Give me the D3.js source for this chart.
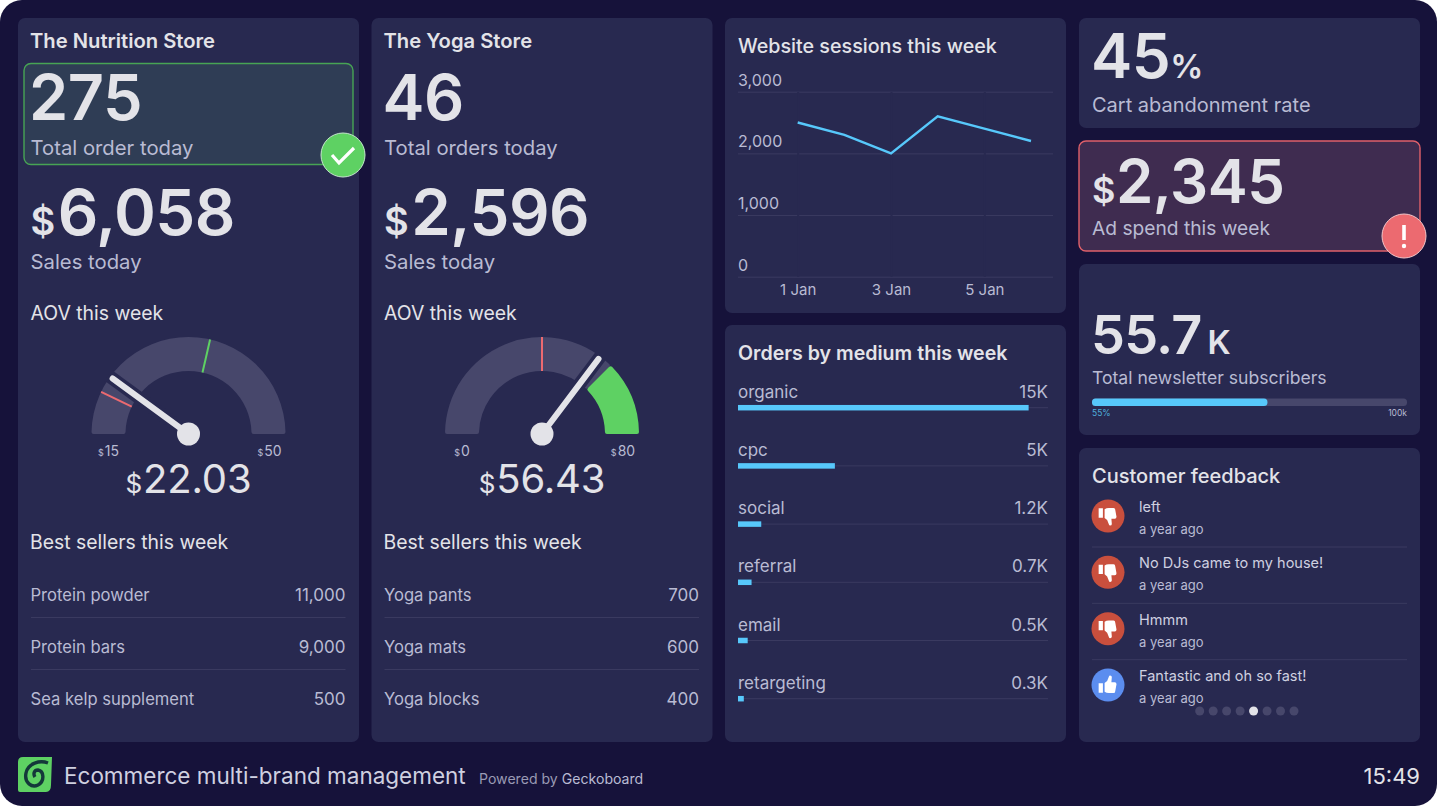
<!DOCTYPE html>
<html>
<head>
<meta charset="utf-8">
<script src="https://cdn.jsdelivr.net/npm/d3@7"></script>
<style>
  html, body { margin: 0; background: #fff; }
  svg { display: block; font-family: Inter, "Noto Sans", sans-serif; }
  .axis path { display: none; }
</style>
</head>
<body>
<svg id="board" width="1437" height="808"></svg>
<script>
// stores
const storeNames = ["The Nutrition Store", "The Yoga Store"];
const orderValues = ["275", "46"];
const orderLabels = ["Total order today", "Total orders today"];
const salesValues = ["6,058", "2,596"];
const gaugeMins = [15, 0];
const gaugeMaxs = [50, 80];
const gaugeValues = [22.03, 56.43];
const gaugeRedMarks = [20, 40];
const gaugeGreenMarks = [35, null];
const gaugeGreenBands = [null, 60];
const nutritionSellers = ["Protein powder", "Protein bars", "Sea kelp supplement"];
const nutritionSold = [11000, 9000, 500];
const yogaSellers = ["Yoga pants", "Yoga mats", "Yoga blocks"];
const yogaSold = [700, 600, 400];

// website sessions
const sessionDays = [1, 2, 3, 4, 5, 6];
const sessionValues = [2500, 2300, 2000, 2600, 2400, 2200];
const sessionTicks = [0, 1000, 2000, 3000];
const sessionDayTicks = [1, 3, 5];

// orders by medium
const mediums = ["organic", "cpc", "social", "referral", "email", "retargeting"];
const mediumValues = [15000, 5000, 1200, 700, 500, 300];
const mediumLabels = ["15K", "5K", "1.2K", "0.7K", "0.5K", "0.3K"];

// feedback
const feedbackTexts = ["left", "No DJs came to my house!", "Hmmm", "Fantastic and oh so fast!"];
const feedbackUp = [false, false, false, true];
const feedbackPages = [0, 1, 2, 3, 4, 5, 6, 7];
const feedbackActive = 4;

const newsletterValue = 55.7;
const newsletterGoal = 100;

const BG = "#16123a", CARD = "#282950", TEXT = "#e3e3e8", SUB = "#b9bbd3", SOFT = "#cfd0e0",
  TRACK = "#47476b", LINE = "#3a3a60", BLUE = "#57c8fb", GREEN = "#5ed163", RED = "#ec6a70";

const svg = d3.select("#board");

svg.append("rect").attr("width", 1437).attr("height", 806).attr("rx", 22).attr("fill", BG);

function card(x, y, w, h, fill, stroke) {
  svg.append("rect").attr("x", x).attr("y", y).attr("width", w).attr("height", h)
    .attr("rx", 7).attr("fill", fill || CARD)
    .attr("stroke", stroke || "none").attr("stroke-width", stroke ? 1.4 : 0);
}

function label(parent, x, y, str, size, color, weight, anchor) {
  return parent.append("text").attr("x", x).attr("y", y).text(str)
    .attr("font-size", size).attr("fill", color || TEXT)
    .attr("font-weight", weight || 400).attr("text-anchor", anchor || "start");
}

// number with a small prefix or suffix, e.g. $6,058
function bigNumber(parent, x, y, prefix, value, suffix, size, smallSize, gap, tracking) {
  const t = parent.append("text").attr("x", x).attr("y", y).attr("fill", TEXT)
    .attr("font-weight", 600).attr("letter-spacing", tracking || "-0.03em");
  if (prefix) t.append("tspan").text(prefix).attr("font-size", smallSize);
  t.append("tspan").text(value).attr("font-size", size).attr("dx", prefix ? gap : 0);
  if (suffix) t.append("tspan").text(suffix).attr("font-size", smallSize).attr("dx", gap);
}

// gauge
function gauge(g, i) {
  const angle = d3.scaleLinear().domain([gaugeMins[i], gaugeMaxs[i]]).range([-Math.PI / 2, Math.PI / 2]);
  const rOuter = 97, rInner = 63;
  const arc = d3.arc().innerRadius(rInner).outerRadius(rOuter).cornerRadius(2);
  const band = gaugeGreenBands[i];

  g.append("path").attr("fill", TRACK)
    .attr("d", arc({ startAngle: angle(gaugeMins[i]), endAngle: angle(band === null ? gaugeMaxs[i] : band) }));
  if (band !== null) {
    g.append("path").attr("fill", GREEN)
      .attr("d", arc({ startAngle: angle(band), endAngle: angle(gaugeMaxs[i]) }));
  }

  const tick = (v, color) => {
    const a = angle(v) - Math.PI / 2;
    g.append("line").attr("stroke", color).attr("stroke-width", 2)
      .attr("x1", rInner * Math.cos(a)).attr("y1", rInner * Math.sin(a))
      .attr("x2", rOuter * Math.cos(a)).attr("y2", rOuter * Math.sin(a));
  };
  tick(gaugeRedMarks[i], RED);
  if (gaugeGreenMarks[i] !== null) tick(gaugeGreenMarks[i], GREEN);

  const a = angle(gaugeValues[i]) - Math.PI / 2;
  const nx = 94 * Math.cos(a), ny = 94 * Math.sin(a);
  g.append("line").attr("x2", nx * 1.06).attr("y2", ny * 1.06)
    .attr("stroke", CARD).attr("stroke-width", 13);
  g.append("line").attr("x2", nx).attr("y2", ny)
    .attr("stroke", TEXT).attr("stroke-width", 6).attr("stroke-linecap", "round");
  g.append("circle").attr("r", 11.5).attr("fill", TEXT);

  const end = (x, v) => {
    const t = g.append("text").attr("x", x).attr("y", 21.5).attr("fill", SUB).attr("text-anchor", "middle");
    t.append("tspan").text("$").attr("font-size", 9);
    t.append("tspan").text(v).attr("font-size", 14).attr("dx", 1);
  };
  end(-80, gaugeMins[i]);
  end(81, gaugeMaxs[i]);

  const v = g.append("text").attr("y", 59).attr("text-anchor", "middle").attr("fill", TEXT).attr("letter-spacing", "-0.01em");
  v.append("tspan").text("$").attr("font-size", 26);
  v.append("tspan").text(gaugeValues[i].toFixed(2)).attr("font-size", 40).attr("dx", 1);
}

// two store columns
const sellers = [nutritionSellers, yogaSellers];
const sold = [nutritionSold, yogaSold];
storeNames.forEach((name, i) => {
  const left = 18 + i * 353.5;
  card(left, 18, 341, 724);
  if (i === 0) card(24, 63.5, 329, 101, "#2f3d55", "#47a454");
  const g = svg.append("g").attr("transform", `translate(${left},0)`);
  label(g, 12, 47.5, name, 20.2, TEXT, 600);
  bigNumber(g, 11, 120, null, orderValues[i], null, 63);
  label(g, 12.5, 155, orderLabels[i], 20.3, SUB);
  bigNumber(g, 12.5, 235, "$", salesValues[i], null, 63.5, 38, 3);
  label(g, 12.5, 269, "Sales today", 20.3, SUB);
  label(g, 12.5, 320, "AOV this week", 19.4, TEXT);
  gauge(g.append("g").attr("transform", "translate(170.5,434)"), i);
  label(g, 12, 549, "Best sellers this week", 19.4, TEXT);

  const rowY = d3.scalePoint().domain(sellers[i]).range([601, 705]);
  sellers[i].forEach((s, j) => {
    label(g, 12.5, rowY(s), s, 16.6, SUB);
    label(g, 327.5, rowY(s), d3.format(",")(sold[i][j]), 17, SUB, 400, "end");
    if (j < 2) {
      g.append("line").attr("x1", 13).attr("x2", 327.5)
        .attr("y1", rowY(s) + 16.5).attr("y2", rowY(s) + 16.5).attr("stroke", LINE);
    }
  });
});

// status badges
const ok = svg.append("g").attr("transform", "translate(343,155)");
ok.append("circle").attr("r", 22).attr("fill", GREEN).attr("stroke", "#c4e6cc").attr("stroke-width", 1);
ok.append("path").attr("d", d3.line()([[-11, 0], [-4, 8], [11, -7]]))
  .attr("fill", "none").attr("stroke", "#fff").attr("stroke-width", 3.2);

// website sessions
card(725, 18, 341, 295);
label(svg, 738, 53, "Website sessions this week", 19.7, TEXT, 500);
const sx = d3.scaleLinear().domain([1, 6]).range([797.7, 1031]);
const sy = d3.scaleLinear().domain([0, 3000]).range([276.7, 91.7]);
const left = 738, right = 1053;

const yAxis = svg.append("g").attr("class", "axis")
  .attr("transform", `translate(${left},0)`)
  .call(d3.axisRight(sy).tickValues(sessionTicks).tickSize(right - left).tickFormat(d3.format(",")));
yAxis.selectAll("line").attr("stroke", LINE);
yAxis.selectAll("text").attr("x", 0).attr("dy", -6.5).attr("text-anchor", "start")
  .attr("fill", SUB).attr("font-size", 16).attr("font-family", "Inter");

const xAxis = svg.append("g").attr("class", "axis")
  .attr("transform", "translate(0,92)")
  .call(d3.axisBottom(sx).tickValues(sessionDayTicks).tickSize(185).tickPadding(7).tickFormat(d => d + " Jan"));
xAxis.selectAll("line").attr("stroke", CARD).attr("stroke-width", 2);
xAxis.selectAll("text").attr("fill", SUB).attr("font-size", 15).attr("font-family", "Inter");

svg.append("path").datum(sessionDays)
  .attr("fill", "none").attr("stroke", BLUE).attr("stroke-width", 2.4)
  .attr("d", d3.line().x(d => sx(d)).y((d, i) => sy(sessionValues[i])));

// orders by medium
card(725, 325, 341, 417);
label(svg, 738, 360, "Orders by medium this week", 19.6, TEXT, 600);
const bx = d3.scaleLinear().domain([0, 16000]).range([738, 1048]);
const by = d3.scalePoint().domain(mediums).range([407.7, 698.7]);

svg.append("g").selectAll("line").data(mediums).join("line")
  .attr("x1", bx(0)).attr("x2", bx.range()[1])
  .attr("y1", d => by(d)).attr("y2", d => by(d)).attr("stroke", LINE);
svg.append("g").selectAll("rect").data(mediums).join("rect")
  .attr("x", bx(0)).attr("y", d => by(d) - 2.75).attr("height", 5.5)
  .attr("width", (d, i) => bx(mediumValues[i]) - bx(0)).attr("fill", BLUE);
mediums.forEach((m, i) => {
  label(svg, 738, by(m) - 10, m, 17, SUB);
  label(svg, 1048, by(m) - 10, mediumLabels[i], 17, SUB, 400, "end");
});

// right column
card(1079, 18, 341, 110);
const abandon = svg.append("g");
bigNumber(abandon, 1091, 78, null, "45", "%", 62, 33, 0);
label(svg, 1092, 112, "Cart abandonment rate", 20, SUB);

card(1079, 141, 341, 110, "#3f2c50", "#e0606a");
const ad = svg.append("g");
bigNumber(ad, 1092, 203, "$", "2,345", null, 60, 36, 1);
label(svg, 1092, 235, "Ad spend this week", 19.2, SUB);

const warn = svg.append("g").attr("transform", "translate(1404,236)");
warn.append("circle").attr("r", 22).attr("fill", RED).attr("stroke", "#f3c5c8").attr("stroke-width", 1);
warn.append("line").attr("y1", -11).attr("y2", 4).attr("stroke", "#fff").attr("stroke-width", 3.6);
warn.append("circle").attr("cy", 10).attr("r", 2.2).attr("fill", "#fff");

card(1079, 264, 341, 171);
const subs = svg.append("g");
bigNumber(subs, 1091, 354, null, String(newsletterValue), "K", 54, 33, 6, "-0.05em");
label(svg, 1092, 384, "Total newsletter subscribers", 17.6, SUB);
const px = d3.scaleLinear().domain([0, newsletterGoal]).range([1092, 1407]);
svg.append("rect").attr("x", px(0)).attr("y", 398.5).attr("width", px(newsletterGoal) - px(0)).attr("height", 7.5)
  .attr("rx", 3.5).attr("fill", TRACK);
svg.append("rect").attr("x", px(0)).attr("y", 398.5).attr("width", px(newsletterValue) - px(0)).attr("height", 7.5)
  .attr("rx", 3.5).attr("fill", BLUE);
label(svg, 1092, 416, "55%", 8.5, "#4fb0dd");
label(svg, 1407, 416, "100k", 8.5, SUB, 400, "end");

// customer feedback
card(1079, 448, 341, 294);
label(svg, 1092, 483, "Customer feedback", 20, TEXT, 500);

const thumb = "M-11,-9 h5 v11 h-5 z M-4,-8 q2,-1.5 5,-1.5 h5.5 q2,0 2,2.2 l1.5,8.3 q0,2.3 -2,2.3 h-4 l.5,6 q0,2 -2,2 q-1.2,0 -1.5,-1.5 l-2,-5 l-3,-2.5 z";
const fy = d3.scalePoint().domain(feedbackTexts).range([516, 685]);
feedbackTexts.forEach((t, i) => {
  const up = feedbackUp[i];
  const c = svg.append("g").attr("transform", `translate(1108,${fy(t)})`);
  c.append("circle").attr("r", 16.5).attr("fill", up ? "#5b8def" : "#c94f3d");
  c.append("path").attr("d", thumb).attr("fill", "#fff")
    .attr("transform", up ? "scale(0.85,-0.85)" : "scale(0.85)");
  label(svg, 1139, fy(t) - 4, t, 14.5, SOFT);
  label(svg, 1139, fy(t) + 18, "a year ago", 13, SUB);
  if (i < 3) {
    svg.append("line").attr("x1", 1092).attr("x2", 1407)
      .attr("y1", fy(t) + 31).attr("y2", fy(t) + 31).attr("stroke", LINE);
  }
});
const dotX = d3.scalePoint().domain(feedbackPages).range([1199.7, 1294]);
svg.append("g").selectAll("circle").data(feedbackPages).join("circle")
  .attr("cx", d => dotX(d)).attr("cy", 711).attr("r", 4.5)
  .attr("fill", d => d === feedbackActive ? TEXT : TRACK);

// footer
const logo = svg.append("g").attr("transform", "translate(18,757)");
logo.append("path").attr("d", "M5,0 H34 L33,28 Q33,35 28,35 H2 Q0,35 0,33 V5 Q0,0 5,0 Z").attr("fill", GREEN);
logo.append("path")
  .attr("d", "M30,6 C22,3 10,6 8,16 C6,26 14,31 20,28 C27,24 26,14 20,13 C16,13 15,17 17,20")
  .attr("fill", "none").attr("stroke", "#14383a").attr("stroke-width", 3.4);
label(svg, 64, 784, "Ecommerce multi-brand management", 22.5, SOFT);
label(svg, 479, 784, "Powered by ", 14.1, "#9a9ab4").append("tspan").text("Geckoboard").attr("fill", SUB);
label(svg, 1420, 784, "15:49", 22, TEXT, 400, "end");
</script>
</body>
</html>
